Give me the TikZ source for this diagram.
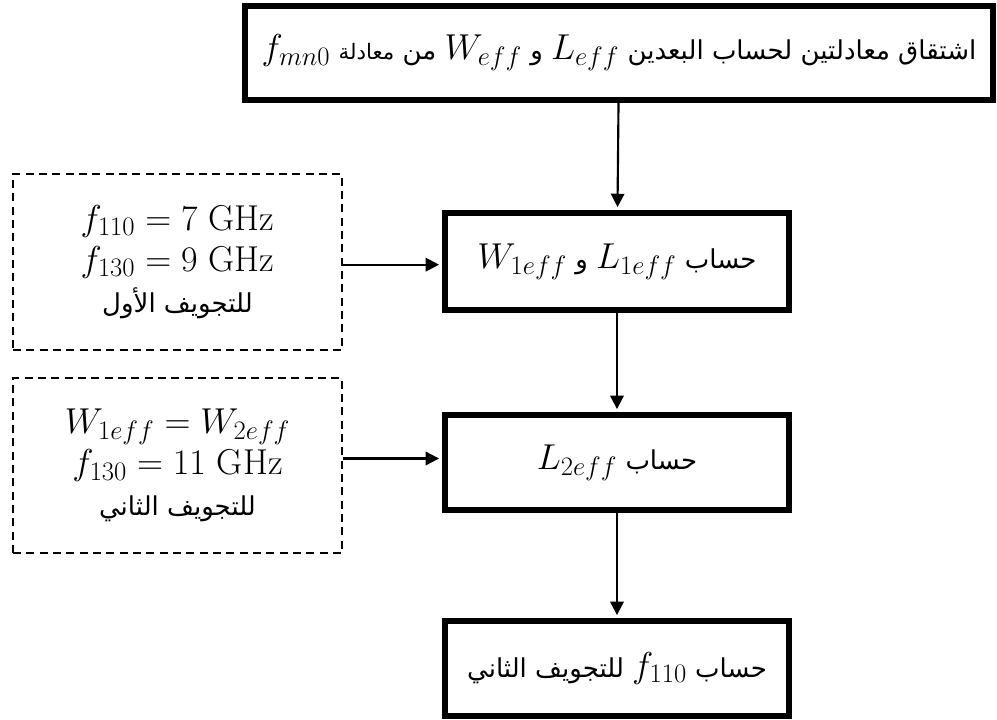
\RequirePackage{fix-cm}
\documentclass[tikz,border=0pt]{standalone}
\usepackage{fontspec}
\newfontfamily\arabicfont[Script=Arabic]{DejaVu Sans}
\TeXXeTstate=1
\DeclareMathSizes{27}{27}{20}{15}
\usetikzlibrary{arrows.meta}
\newcommand{\mth}[1]{\beginL{\fontsize{27}{30}\selectfont$#1$}\endL}
\newcommand{\artxt}{\arabicfont\fontsize{19.5}{24}\selectfont}
\begin{document}
\begin{tikzpicture}[x=0.75pt,y=-0.75pt,
  flowbox/.style={draw, line width=4.5pt, inner sep=0pt, align=center},
  inbox/.style={draw, line width=1.5pt, dash pattern=on 6pt off 4pt,
    inner sep=0pt, align=center, minimum width=246.75pt,
    font=\fontsize{27}{30}\selectfont},
  arr/.style={line width=1.6pt, -{Triangle[length=10pt,width=10pt]}, shorten >=2.2pt}]
\useasboundingbox (0,0) rectangle (997,719);

\node[flowbox, minimum width=561pt, minimum height=70.5pt] (top) at (619,53)
  {\artxt\beginR اشتقاق معادلتين لحساب البعدين \mth{L_{eff}} و \mth{W_{eff}} من {\fontsize{16}{20}\selectfont معادلة} \mth{f_{mn0}}\endR};

\node[flowbox, minimum width=258pt, minimum height=72.75pt] (b2) at (617,261.5)
  {\artxt\beginR حساب \mth{L_{1eff}} و \mth{W_{1eff}}\endR};

\node[flowbox, minimum width=258pt, minimum height=71.25pt] (b3) at (617,462.5)
  {\artxt\beginR حساب \mth{L_{2eff}}\endR};

\node[flowbox, minimum width=258pt, minimum height=71.25pt] (b4) at (617,668.5)
  {\artxt\beginR حساب \mth{f_{110}} للتجويف الثاني\endR};

\node[inbox, minimum height=132pt] (d1) at (177.5,262)
  {$f_{110}=7\ \mathrm{GHz}$\\[1pt] $f_{130}=9\ \mathrm{GHz}$\\[1pt]
   {\artxt\beginR للتجويف الأول\endR}};

\node[inbox, minimum height=131.25pt] (d2) at (177.5,465.5)
  {$W_{1eff}=W_{2eff}$\\[1pt] $f_{130}=11\ \mathrm{GHz}$\\[1pt]
   {\artxt\beginR للتجويف الثاني\endR}};

\draw[arr] (top) -- (b2);
\draw[arr] (b2) -- (b3);
\draw[arr] (b3) -- (b4);
\draw[arr] ([yshift=-2pt]d1.east) -- ([yshift=-2pt]d1.east -| b2.west);
\draw[arr] ([yshift=3pt]b3.west -| d2.east) -- ([yshift=3pt]b3.west);
\end{tikzpicture}
\end{document}
